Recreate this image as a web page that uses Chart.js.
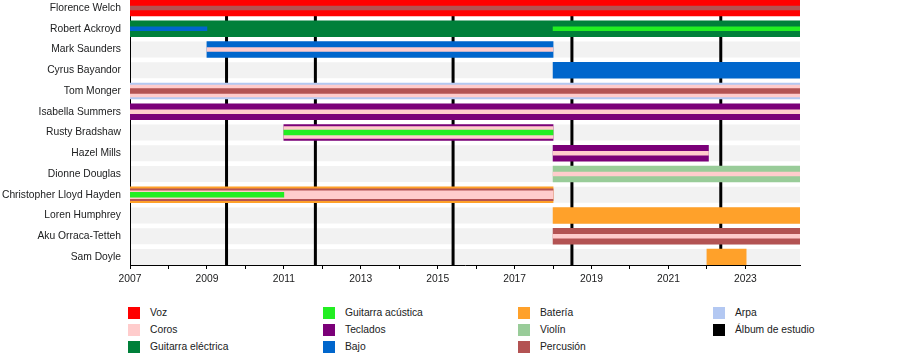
<!DOCTYPE html>
<html>
<head>
<meta charset="utf-8">
<script src="https://cdn.jsdelivr.net/npm/chart.js@4.4.1/dist/chart.umd.min.js"></script>
<style>
  html, body { margin: 0; padding: 0; background: #fff; }
  body { width: 900px; height: 364px; position: relative; overflow: hidden; font-family: "Liberation Sans", Arial, sans-serif; }
  #wrap { position: absolute; left: 0; top: 0; width: 900px; height: 291px; }
  .leg { position: absolute; font-size: 10.3px; color: #202122; line-height: 12px; white-space: nowrap; height: 12px; }
  .leg span { position: absolute; left: 0; top: 0; width: 12px; height: 12px; }
  .leg b { font-weight: normal; position: absolute; left: 22px; top: 0; }
</style>
</head>
<body>
<div id="wrap"><canvas id="timeline"></canvas></div>
<div id="legend"></div>
<script>
const members = [
  'Florence Welch', 'Robert Ackroyd', 'Mark Saunders', 'Cyrus Bayandor', 'Tom Monger',
  'Isabella Summers', 'Rusty Bradshaw', 'Hazel Mills', 'Dionne Douglas',
  'Christopher Lloyd Hayden', 'Loren Humphrey', 'Aku Orraca-Tetteh', 'Sam Doyle'
];
const startYear = 2007;
const endYear = 2024.42;

// álbumes de estudio (fecha como año decimal)
const albums = [2009.51, 2011.82, 2015.40, 2018.49, 2022.36];

// [miembro, instrumento, desde, hasta]
const mainBars = [
  ['Florence Welch', 'Voz', 2007, 2024.42],
  ['Robert Ackroyd', 'Guitarra eléctrica', 2007, 2024.42],
  ['Mark Saunders', 'Bajo', 2009.0, 2018.0],
  ['Cyrus Bayandor', 'Bajo', 2018.0, 2024.42],
  ['Tom Monger', 'Arpa', 2007, 2024.42],
  ['Isabella Summers', 'Teclados', 2007, 2024.42],
  ['Rusty Bradshaw', 'Teclados', 2011.0, 2018.0],
  ['Hazel Mills', 'Teclados', 2018.0, 2022.04],
  ['Dionne Douglas', 'Violín', 2018.0, 2024.42],
  ['Christopher Lloyd Hayden', 'Batería', 2007, 2018.0],
  ['Loren Humphrey', 'Batería', 2018.0, 2024.42],
  ['Aku Orraca-Tetteh', 'Percusión', 2018.0, 2024.42],
  ['Sam Doyle', 'Batería', 2022.0, 2023.02]
];
const bandBars = [
  ['Tom Monger', 'Coros', 2007, 2024.42],
  ['Rusty Bradshaw', 'Coros', 2011.0, 2018.0],
  ['Christopher Lloyd Hayden', 'Percusión', 2007, 2018.0]
];
const innerBars = [
  ['Christopher Lloyd Hayden', 'Coros', 2007, 2018.0]
];
const coreBars = [
  ['Tom Monger', 'Percusión', 2007, 2024.42],
  ['Rusty Bradshaw', 'Guitarra acústica', 2011.0, 2018.0],
  ['Christopher Lloyd Hayden', 'Guitarra acústica', 2007, 2011.0]
];
const stripeBars = [
  ['Florence Welch', 'Percusión', 2007, 2024.42],
  ['Robert Ackroyd', 'Bajo', 2007, 2009.0],
  ['Robert Ackroyd', 'Guitarra acústica', 2018.0, 2024.42],
  ['Mark Saunders', 'Coros', 2009.0, 2018.0],
  ['Isabella Summers', 'Coros', 2007, 2024.42],
  ['Hazel Mills', 'Coros', 2018.0, 2022.04],
  ['Dionne Douglas', 'Coros', 2018.0, 2024.42],
  ['Aku Orraca-Tetteh', 'Coros', 2018.0, 2024.42]
];

const legendCols = [
  ['Voz', 'Coros', 'Guitarra eléctrica'],
  ['Guitarra acústica', 'Teclados', 'Bajo'],
  ['Batería', 'Violín', 'Percusión'],
  ['Arpa', 'Álbum de estudio']
];

const colors = {
  'Voz': '#ff0000',
  'Coros': '#ffcccc',
  'Guitarra eléctrica': '#00803a',
  'Guitarra acústica': '#22ee22',
  'Teclados': '#7b0078',
  'Bajo': '#0066cc',
  'Batería': '#ffa12a',
  'Violín': '#99cc99',
  'Percusión': '#b35353',
  'Arpa': '#b3c8f2',
  'Álbum de estudio': '#000000'
};

const FONT = '"Liberation Sans", Arial, sans-serif';

// capas: las más gruesas se dibujan primero
const tiers = [
  { bars: mainBars, thickness: 16, order: 5 },
  { bars: bandBars, thickness: 12, order: 4 },
  { bars: innerBars, thickness: 8, order: 3 },
  { bars: coreBars, thickness: 5, order: 2 },
  { bars: stripeBars, thickness: 4, order: 1 }
];

const datasets = [];
tiers.forEach(function (t) {
  const instruments = [...new Set(t.bars.map(b => b[1]))];
  instruments.forEach(function (inst) {
    datasets.push({
      label: inst,
      data: t.bars.filter(b => b[1] === inst).map(b => ({ y: members.indexOf(b[0]), x: [b[2], b[3]] })),
      backgroundColor: colors[inst],
      barThickness: t.thickness,
      order: t.order,
      grouped: false,
      borderWidth: 0
    });
  });
});

// fondo gris de cada fila y líneas de álbumes
const backdrop = {
  id: 'backdrop',
  beforeDraw(chart) {
    const { ctx, chartArea: a, scales: { x, y } } = chart;
    ctx.save();
    ctx.fillStyle = '#f2f2f2';
    members.forEach(function (m, i) {
      const cy = y.getPixelForValue(i);
      ctx.fillRect(a.left, cy - 8, a.right - a.left, 16);
    });
    ctx.fillStyle = colors['Álbum de estudio'];
    albums.forEach(function (yr) {
      const px = x.getPixelForValue(yr);
      ctx.fillRect(px - 1.5, a.top, 3, a.bottom - a.top);
    });
    ctx.restore();
  }
};

new Chart(document.getElementById('timeline'), {
  type: 'bar',
  data: { datasets: datasets },
  plugins: [backdrop],
  options: {
    indexAxis: 'y',
    responsive: true,
    maintainAspectRatio: false,
    animation: false,
    layout: { padding: { top: 0, right: 100, bottom: 0, left: 0 } },
    plugins: { legend: { display: false }, tooltip: { enabled: false } },
    scales: {
      x: {
        type: 'linear',
        min: startYear,
        max: endYear,
        offset: false,
        afterBuildTicks(scale) { scale.ticks = scale.ticks.filter(t => Number.isInteger(t.value)); },
        afterFit(scale) {
          scale.height = 26;
          scale.paddingLeft = 0;
          scale.paddingRight = 0;
        },
        ticks: {
          stepSize: 1, autoSkip: false, maxRotation: 0, padding: 4,
          color: '#202122', font: { family: FONT, size: 10.3 },
          callback: v => ((v - startYear) % 2 === 0 ? String(v) : '')
        },
        grid: { drawOnChartArea: false, drawTicks: true, tickLength: 4, color: '#000' },
        border: { color: '#000', width: 1 }
      },
      y: {
        type: 'linear',
        reverse: true,
        offset: false,
        min: -0.3855,
        max: members.length - 1 + 0.3855,
        afterBuildTicks(scale) {
          scale.ticks = members.map((m, i) => ({ value: i }));
        },
        afterFit(scale) {
          scale.width = 130;
          scale.paddingTop = 0;
          scale.paddingBottom = 0;
        },
        ticks: {
          autoSkip: false, padding: 9,
          color: '#202122', font: { family: FONT, size: 10.3 },
          callback: v => members[v] || ''
        },
        grid: { display: false, drawTicks: false, offset: false },
        border: { display: true, color: '#000', width: 1 }
      }
    }
  }
});

// leyenda en HTML (por columnas)
const legendX = [128, 323, 518, 713];
const legendY = [307, 324, 341];
const legendEl = document.getElementById('legend');
legendCols.forEach(function (col, c) {
  col.forEach(function (name, r) {
    const item = document.createElement('div');
    item.className = 'leg';
    item.style.left = legendX[c] + 'px';
    item.style.top = legendY[r] + 'px';
    item.innerHTML = '<span style="background:' + colors[name] + '"></span><b>' + name + '</b>';
    legendEl.appendChild(item);
  });
});
</script>
</body>
</html>
